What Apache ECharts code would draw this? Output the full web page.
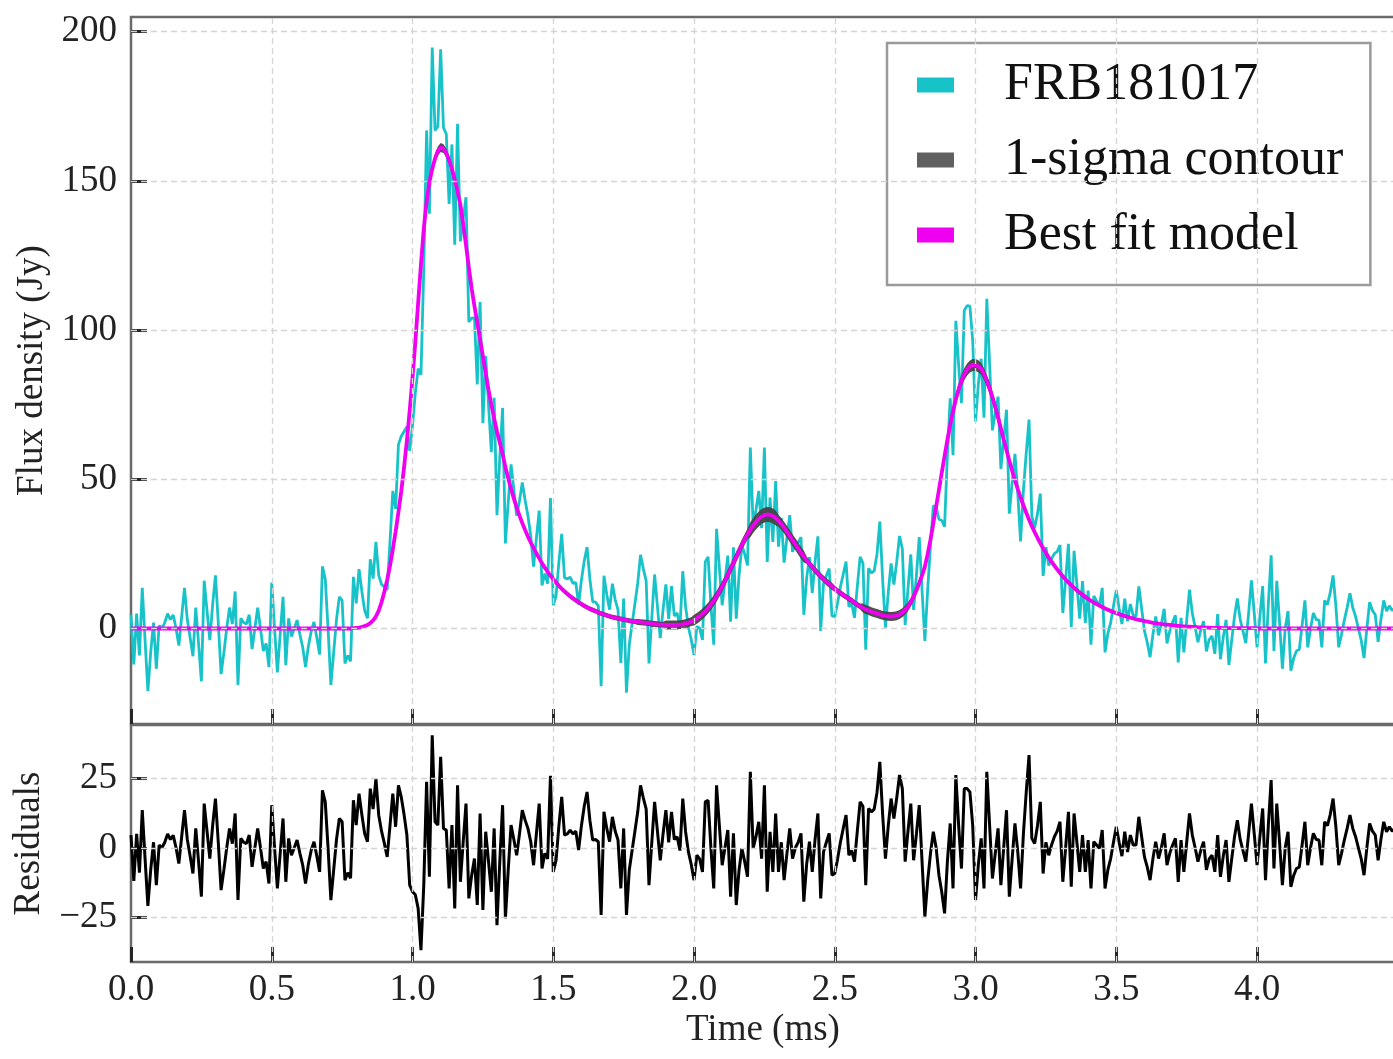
<!DOCTYPE html>
<html>
<head>
<meta charset="utf-8">
<title>FRB181017 burst profile</title>
<script src="https://cdn.jsdelivr.net/npm/echarts@6/dist/echarts.min.js"></script>
<style>
  html, body { margin: 0; padding: 0; background: #ffffff; }
  #chart { width: 1393px; height: 1059px; }
</style>
</head>
<body>
<div id="chart"></div>
<script>
// Time resolution of the profile (ms per sample)
const sampleStep = 0.01;

// Observed flux density (Jy), one value per sample from t = 0
const flux = [
  4.6, -12, 5, -9, 13.6, -4, -21, -8, 2, -13.5,
  1, 0, 2, 5, 3, 4.5, 0, -5.7, 4, 13.6,
  3, -3, -9.3, 7, -5, -17.7, 16, 6, -3.9, 8,
  17.8, 2, -15.3, -8, 0, 7, 1.5, 12.4, -18.9, 3.4,
  2, 1.5, 4.6, -6.9, 0, 7, 0, -7.5, -5, -12.9,
  15.4, 0, -14.7, -2, 10.6, -12.3, 3.4, -2.7, 0, 2.8,
  -2, -6.3, -12.9, -6, -1, 2.2, -3, -8.7, 20.8, 16.6,
  0, -18.9, -8, 3, 10.6, 9.4, -11.7, -9, -11, 17.3,
  8.4, 19.9, 12.5, 6, 3.4, 23.2, 16.7, 29, 17.8, 14.8,
  13.9, 13, 29, 46.1, 40.1, 61.6, 64.4, 66, 67.6, 59.5,
  68.1, 79, 87.1, 85, 120.5, 166.9, 139, 194.7, 166.9, 168.2,
  194.1, 167.8, 165.7, 142.3, 162.2, 128.6, 169.1, 129.7, 137.5, 144.5,
  102.7, 104, 104.1, 81.8, 109.4, 68.8, 91.3, 75, 59.1, 77.3,
  38, 57.3, 73.9, 28.5, 42.3, 55, 46.5, 37.8, 42.8, 48.9,
  43, 37.8, 31, 20.7, 30.2, 39.5, 14.4, 18.4, 15, 43.7,
  7.8, 10.9, 22.3, 31.7, 17, 16.6, 17.2, 15.1, 15.4, 8,
  16.2, 22.6, 27.3, 16.6, 9, 8.8, 7.6, -19.3, 17.7, 11.4,
  6.3, 15, 9.6, 6.2, -11.5, 10, -21.5, -5.4, 1.5, 8.3,
  15.2, 24.7, 20, 15.9, -11.7, 3.6, 18.1, 7.4, -3.2, 6.3,
  14.8, 3.2, 14.2, 4.2, 5.2, 0.3, 19.2, 7.4, 0.4, -3.7,
  -8.9, 0.7, 0.1, -3.8, 22.4, 24, 8, -5.4, 33.4, 20.4,
  7.8, 16, 24.4, 2.3, 27.2, 3.3, 18, 27.8, 24.9, 21.1,
  60.6, 34.3, 39.7, 46.1, 33.6, 60.6, 22.3, 43.9, 29, 49.4,
  27.4, 37, 22.1, 30.4, 38, 25.7, 28.2, 28.8, 30.6, 4.6,
  16.9, 23.9, 11.9, 22.5, 30.9, -0.8, 15.1, 17.7, 20.1, 4.2,
  4, 8.6, 13.9, 18.2, 22.4, 7.3, 8.4, 3.6, 14, 24,
  21.9, -7.1, 20.2, 18.6, 19.3, 25, 35.8, 16.4, 0.3, 12.1,
  21.8, 14.7, 22.3, 31, 26.7, 1.2, 13.3, 24.8, 6.2, 17.8,
  30.6, 12.8, -4.2, 13, 27.8, 41.1, 40.8, 36.6, 36.2, 34.1,
  58.2, 77.1, 58.1, 103.1, 88.2, 75.5, 106.6, 108.2, 108, 96.3,
  69.4, 81.9, 90.4, 70.6, 110.5, 88.5, 66.4, 72.2, 77.7, 53.5,
  63.3, 73.3, 38.5, 48.9, 58.5, 45.2, 29.2, 46.3, 58.8, 70,
  37.7, 33.8, 38.4, 45.2, 17.6, 27.3, 21.1, 23.4, 25.1, 25.8,
  28, 5.2, 16.4, 28.4, 0.4, 26, 14.8, 3.3, 15.9, 1.9,
  12.7, -5.4, 10.9, 9.2, 7.5, 13.6, -8, -1.7, 2, 7.5,
  12.8, 6.8, 1.5, 10, 2.4, 8.2, 4.4, 4.1, 14.1, 6.7,
  -0.8, -4.7, -9.6, -2.1, 4, -2.3, 1.5, 6.6, -5, -0.8,
  2.1, 4.4, -11.4, 3.6, -8, 2.6, 13, 5.1, 0.5, -4.6,
  -0.6, 2.5, -7.7, -3.7, -2.5, -8.5, 4.8, -10.3, -2.9, 2.9,
  -12.2, -3.9, 4.1, 10.1, 3.1, -0.9, -4.9, 5.1, 16.1, 5.1,
  -6.3, 4, 14.2, -11.7, 8, 24.5, -7.5, 16, 2, -13.5,
  0, 5.8, -14.1, -10, -7.5, -7, 1, 9.4, -6.3, 0,
  5.2, 3, 2.8, -6.3, 9.4, 8, 12, 17.8, 7.6, -6.3,
  -2, 2.8, 7, 11.8, 7, 4, 0, -4, -9.9, 0,
  8.8, 6, 4.6, -4.5, 3, 9.4, 5.8, 7.6, 6, 7
];

// Best fit model (Jy) on the same time samples
const bestFit = [
  0, 0, 0, 0, 0, 0, 0, 0, 0, 0,
  0, 0, 0, 0, 0, 0, 0, 0, 0, 0,
  0, 0, 0, 0, 0, 0, 0, 0, 0, 0,
  0, 0, 0, 0, 0, 0, 0, 0, 0, 0,
  0, 0, 0, 0, 0, 0, 0, 0, 0, 0,
  0, 0, 0, 0, 0, 0, 0, 0, 0, 0,
  0, 0, 0, 0, 0, 0, 0, 0, 0, 0,
  0, 0, 0, 0, 0, 0, 0, 0, 0, 0.1,
  0.2, 0.3, 0.5, 0.8, 1.2, 1.8, 2.7, 4, 6, 8.8,
  12.3, 16.3, 21, 26.5, 32.5, 39, 46, 54, 63, 73,
  84, 96, 109, 122, 134, 143, 149.5, 154, 157.5, 160,
  161.2, 160.8, 159.3, 157, 154, 150.5, 146.5, 142, 135.5, 128.5,
  121, 114, 108, 102.5, 97, 91.3, 85.5, 80, 75, 70.3,
  66, 62.3, 58.5, 54, 50.3, 46.8, 43.5, 40.5, 37.8, 35.3,
  33, 30.8, 28.8, 27, 25.2, 23.5, 21.9, 20.4, 19, 17.7,
  16.5, 15.4, 14.3, 13.3, 12.4, 11.6, 10.8, 10.1, 9.4, 8.8,
  8.2, 7.6, 7.1, 6.6, 6.2, 5.8, 5.4, 5, 4.7, 4.4,
  4.1, 3.8, 3.6, 3.4, 3.2, 3, 2.8, 2.6, 2.5, 2.3,
  2.2, 2.1, 2, 1.9, 1.8, 1.6, 1.5, 1.4, 1.3, 1.3,
  1.2, 1.2, 1.2, 1.2, 1.2, 1.3, 1.4, 1.6, 1.9, 2.3,
  2.8, 3.4, 4.1, 4.9, 5.8, 6.8, 8, 9.3, 10.8, 12.4,
  14.1, 16, 18, 20, 22, 24, 26, 28, 29.9, 31.6,
  33.1, 34.5, 35.7, 36.7, 37.5, 38, 38.2, 38.1, 37.7, 37,
  36.1, 35, 33.8, 32.4, 31, 29.6, 28.2, 26.8, 25.4, 24.1,
  22.9, 21.7, 20.6, 19.5, 18.5, 17.5, 16.6, 15.7, 14.9, 14.1,
  13.3, 12.6, 11.9, 11.2, 10.6, 10, 9.4, 8.6, 8, 7.4,
  6.9, 6.4, 6, 5.6, 5.3, 5, 4.7, 4.4, 4.2, 4.1,
  4, 4.1, 4.3, 4.7, 5.3, 6.2, 7.3, 8.8, 10.7, 12.8,
  15.2, 17.8, 20.7, 25, 29.8, 35.3, 40.8, 46.5, 52.2, 57.8,
  63.2, 68.3, 72.8, 76.8, 80.2, 83, 85.2, 86.8, 87.8, 88.3,
  88.3, 87.9, 87, 85.3, 83, 80.5, 77.5, 74.2, 70.7, 67,
  63.3, 59.7, 56.2, 52.9, 49.7, 46.7, 43.9, 41.3, 38.8, 36.5,
  34.3, 32.3, 30.4, 28.6, 26.9, 25.3, 23.8, 22.4, 21.1, 19.8,
  18.6, 17.5, 16.4, 15.4, 14.5, 13.6, 12.8, 12, 11.3, 10.6,
  9.9, 9.3, 8.7, 8.2, 7.7, 7.2, 6.7, 6.3, 5.9, 5.5,
  5.2, 4.8, 4.5, 4.2, 3.9, 3.6, 3.4, 3.1, 2.9, 2.7,
  2.5, 2.3, 2.1, 1.9, 1.8, 1.6, 1.5, 1.4, 1.3, 1.2,
  1.1, 1, 0.9, 0.8, 0.7, 0.6, 0.6, 0.5, 0.5, 0.4,
  0.4, 0.3, 0.3, 0.3, 0.2, 0.2, 0.2, 0.2, 0.1, 0.1,
  0.1, 0.1, 0.1, 0.1, 0.1, 0.1, 0.1, 0.1, 0.1, 0.1,
  0, 0, 0, 0, 0, 0, 0, 0, 0, 0,
  0, 0, 0, 0, 0, 0, 0, 0, 0, 0,
  0, 0, 0, 0, 0, 0, 0, 0, 0, 0,
  0, 0, 0, 0, 0, 0, 0, 0, 0, 0,
  0, 0, 0, 0, 0, 0, 0, 0, 0, 0
];

// Residuals (data minus model, Jy) on the same time samples
const residuals = [
  4.6, -12, 5, -9, 13.6, -4, -21, -8, 2, -13.5,
  1, 0, 2, 5, 3, 4.5, 0, -5.7, 4, 13.6,
  3, -3, -9.3, 7, -5, -17.7, 16, 6, -3.9, 8,
  17.8, 2, -15.3, -8, 0, 7, 1.5, 12.4, -18.9, 3.4,
  2, 1.5, 4.6, -6.9, 0, 7, 0, -7.5, -5, -12.9,
  15.4, 0, -14.7, -2, 10.6, -12.3, 3.4, -2.7, 0, 2.8,
  -2, -6.3, -12.9, -6, -1, 2.2, -3, -8.7, 20.8, 16.6,
  0, -18.9, -8, 3, 10.6, 9.4, -11.7, -9, -11, 17.2,
  8.2, 19.6, 12, 5.2, 2.2, 21.4, 14, 25, 11.8, 6,
  1.6, -3.3, 8, 19.6, 7.6, 22.6, 18.4, 12, 4.6, -13.5,
  -15.9, -17, -21.9, -37, -13.5, 23.9, -10.5, 40.7, 9.4, 8.2,
  32.9, 7, 6.4, -14.7, 8.2, -21.9, 22.6, -12.3, 2, 16,
  -18.3, -10, -3.9, -20.7, 12.4, -22.5, 5.8, -5, -15.9, 7,
  -28, -5, 15.4, -25.5, -8, 8.2, 3, -2.7, 5, 13.6,
  10, 7, 2.2, -6.3, 5, 16, -7.5, -2, -4, 26,
  -8.7, -4.5, 8, 18.4, 4.6, 5, 6.4, 5, 6, -0.8,
  8, 15, 20.2, 10, 2.8, 3, 2.2, -24.3, 13, 7,
  2.2, 11.2, 6, 2.8, -14.7, 7, -24.3, -8, -1, 6,
  13, 22.6, 18, 14, -13.5, 2, 16.6, 6, -4.5, 5,
  13.6, 2, 13, 3, 4, -1, 17.8, 5.8, -1.5, -6,
  -11.7, -2.7, -4, -8.7, 16.6, 17.2, 0, -14.7, 22.6, 8,
  -6.3, 0, 6.4, -17.7, 5.2, -20.7, -8, -0.2, -5, -10.5,
  27.5, -0.2, 4, 9.4, -3.9, 22.6, -15.9, 5.8, -8.7, 12.4,
  -8.7, 2, -11.7, -2, 7, -3.9, 0, 2, 5.2, -19.5,
  -6, 2.2, -8.7, 3, 12.4, -18.3, -1.5, 2, 5.2, -9.9,
  -9.3, -4, 2, 7, 11.8, -2.7, -1, -5, 6, 16.6,
  15, -13.5, 14.2, 13, 14, 20, 31.1, 12, -3.9, 8,
  17.8, 10.6, 18, 26.3, 21.4, -5, 6, 16, -4.5, 5,
  15.4, -5, -24.9, -12, -2, 5.8, 0, -9.9, -16, -23.7,
  -5, 8.8, -14.7, 26.3, 8, -7.5, 21.4, 21.4, 20.2, 8,
  -18.9, -6, 3.4, -14.7, 27.5, 8, -11.1, -2, 7, -13.5,
  0, 13.6, -17.7, -4, 8.8, -1.5, -14.7, 5, 20, 33.5,
  3.4, 1.5, 8, 16.6, -9.3, 2, -2.7, 1, 4, 6,
  9.4, -12.3, 0, 13, -14.1, 12.4, 2, -8.7, 4.6, -8.7,
  2.8, -14.7, 2.2, 1, -0.2, 6.4, -14.7, -8, -3.9, 2,
  7.6, 2, -3, 5.8, -1.5, 4.6, 1, 1, 11.2, 4,
  -3.3, -7, -11.7, -4, 2.2, -3.9, 0, 5.2, -6.3, -2,
  1, 3.4, -12.3, 2.8, -8.7, 2, 12.4, 4.6, 0, -5,
  -1, 2.2, -8, -4, -2.7, -8.7, 4.6, -10.5, -3, 2.8,
  -12.3, -4, 4, 10, 3, -1, -5, 5, 16, 5,
  -6.3, 4, 14.2, -11.7, 8, 24.5, -7.5, 16, 2, -13.5,
  0, 5.8, -14.1, -10, -7.5, -7, 1, 9.4, -6.3, 0,
  5.2, 3, 2.8, -6.3, 9.4, 8, 12, 17.8, 7.6, -6.3,
  -2, 2.8, 7, 11.8, 7, 4, 0, -4, -9.9, 0,
  8.8, 6, 4.6, -4.5, 3, 9.4, 5.8, 7.6, 6, 7
];

// Half width of the 1-sigma model envelope (Jy), one value per 0.1 ms
const contourHalfWidth = [
  0, 0, 0, 0, 0, 0, 0, 0, 0.5, 1.0,
  1.5, 1.5, 1.0, 1.0, 0.8, 0.8, 0.8, 0.8, 1.0, 1.5,
  1.8, 1.8, 2.5, 2.0, 1.2, 1.0, 1.5, 1.5, 1.5, 2.0,
  2.0, 1.2, 0.8, 0.8, 0.6, 0.5, 0.3, 0.2, 0, 0,
  0, 0, 0, 0, 0
];
const contourSegment = 0.1;

// Axis ticks
const timeTicks = [0, 0.5, 1.0, 1.5, 2.0, 2.5, 3.0, 3.5, 4.0];
const fluxTicks = [0, 50, 100, 150, 200];
const residualTicks = [-25, 0, 25];

// ---- build series data ----
const time = flux.map((_, i) => Math.round(i * sampleStep * 100) / 100);
const fluxData = time.map((t, i) => [t, flux[i]]);
const modelData = time.map((t, i) => [t, bestFit[i]]);
const residualData = time.map((t, i) => [t, residuals[i]]);
const halfAt = t => contourHalfWidth[Math.min(contourHalfWidth.length - 1, Math.floor(t / contourSegment + 1e-9))];
// envelope only where it has a width
const envelopeIdx = time.map((t, i) => i).filter(i => halfAt(time[i]) > 0);
const contourUpper = envelopeIdx.map(i => [time[i], bestFit[i] + halfAt(time[i])]);
const contourLower = envelopeIdx.map(i => [time[i], bestFit[i] - halfAt(time[i])]);

const FONT = "'Liberation Serif', 'DejaVu Serif', 'Times New Roman', serif";
const SPINE = '#6a6a6a';
const gridLine = { color: '#d4d4d4', width: 1.3, type: [6, 4] };
const tickLine = { color: '#262626', width: 3 };
const labelText = { fontFamily: FONT, fontSize: 37, color: '#222222' };
const minus = v => (v < 0 ? '\u2212' + Math.abs(v) : String(v));

const chart = echarts.init(document.getElementById('chart'), null, { renderer: 'canvas' });

const PLOT_LEFT = 131;
const PLOT_WIDTH = 1264;
const T_MAX = 4.49;

const option = {
  animation: false,
  backgroundColor: '#ffffff',
  grid: [
    { left: PLOT_LEFT, top: 17, width: PLOT_WIDTH, height: 707, show: true,
      borderColor: SPINE, borderWidth: 2.5, backgroundColor: 'transparent',
      containLabel: false, outerBoundsMode: 'none' },
    { left: PLOT_LEFT, top: 725, width: PLOT_WIDTH, height: 237, show: true,
      borderColor: SPINE, borderWidth: 2.5, backgroundColor: 'transparent',
      containLabel: false, outerBoundsMode: 'none' }
  ],
  xAxis: [
    { type: 'value', gridIndex: 0, min: 0, max: T_MAX,
      axisLine: { show: false, onZero: false },
      axisTick: { show: true, inside: true, length: 15, lineStyle: tickLine, customValues: timeTicks },
      axisLabel: { show: false, customValues: timeTicks },
      splitLine: { show: false } },
    { type: 'value', gridIndex: 1, min: 0, max: T_MAX,
      axisLine: { show: false, onZero: false },
      axisTick: { show: true, inside: true, length: 15, lineStyle: tickLine, customValues: timeTicks },
      axisLabel: Object.assign({ show: true, margin: 10, customValues: timeTicks,
        formatter: v => Number(v).toFixed(1) }, labelText),
      splitLine: { show: false },
      name: 'Time (ms)', nameLocation: 'middle', nameGap: 50,
      nameTextStyle: { fontFamily: FONT, fontSize: 37, color: '#222222' } }
  ],
  yAxis: [
    { type: 'value', gridIndex: 0, min: -32, max: 204.9,
      axisLine: { show: false, onZero: false },
      axisTick: { show: true, inside: true, length: 16, lineStyle: tickLine, customValues: fluxTicks },
      axisLabel: Object.assign({ show: true, margin: 14, customValues: fluxTicks, formatter: minus }, labelText),
      splitLine: { show: false },
      name: 'Flux density (Jy)', nameLocation: 'middle', nameGap: 78,
      nameTextStyle: { fontFamily: FONT, fontSize: 37, color: '#222222' } },
    { type: 'value', gridIndex: 1, min: -41.3, max: 44.4,
      axisLine: { show: false, onZero: false },
      axisTick: { show: true, inside: true, length: 16, lineStyle: tickLine, customValues: residualTicks },
      axisLabel: Object.assign({ show: true, margin: 14, customValues: residualTicks, formatter: minus }, labelText),
      splitLine: { show: false },
      name: 'Residuals', nameLocation: 'middle', nameGap: 80,
      nameTextStyle: { fontFamily: FONT, fontSize: 37, color: '#222222' } }
  ],
  legend: {
    data: ['FRB181017', '1-sigma contour', 'Best fit model'],
    orient: 'vertical', left: 887, top: 43,
    icon: 'rect', itemWidth: 37, itemHeight: 15, itemGap: 15,
    padding: [12, 27, 20, 30],
    borderColor: '#9a9a9a', borderWidth: 2.5, borderRadius: 0,
    backgroundColor: 'rgba(255,255,255,0.8)',
    selectedMode: false,
    textStyle: { fontFamily: FONT, fontSize: 52, color: '#111111', lineHeight: 60, padding: [0, 0, 0, 45] }
  },
  series: [
    // dashed grid, drawn under the data
    { type: 'line', name: 'grid-top', xAxisIndex: 0, yAxisIndex: 0, data: [[0, 0]], silent: true, z: 1,
      symbol: 'none', lineStyle: { opacity: 0 },
      markLine: { silent: true, symbol: 'none', label: { show: false }, animation: false, lineStyle: gridLine,
        data: fluxTicks.map(v => ({ yAxis: v })).concat(timeTicks.slice(1).map(v => ({ xAxis: v }))) } },
    { type: 'line', name: 'grid-bottom', xAxisIndex: 1, yAxisIndex: 1, data: [[0, 0]], silent: true, z: 1,
      symbol: 'none', lineStyle: { opacity: 0 },
      markLine: { silent: true, symbol: 'none', label: { show: false }, animation: false, lineStyle: gridLine,
        data: residualTicks.map(v => ({ yAxis: v })).concat(timeTicks.slice(1).map(v => ({ xAxis: v }))) } },
    { type: 'line', name: 'FRB181017', xAxisIndex: 0, yAxisIndex: 0, data: fluxData, z: 2,
      showSymbol: false, symbol: 'none',
      itemStyle: { color: '#17c3c8' }, lineStyle: { color: '#17c3c8', width: 2.8 } },
    // 1-sigma envelope as one filled polygon in data coordinates
    { type: 'custom', name: '1-sigma contour', xAxisIndex: 0, yAxisIndex: 0, z: 3, silent: true,
      data: [[contourUpper[0][0], contourUpper[0][1]]],
      itemStyle: { color: '#606060' },
      renderItem: (params, api) => {
        const top = contourUpper.map(p => api.coord(p));
        const bottom = contourLower.map(p => api.coord(p)).reverse();
        return {
          type: 'polygon',
          shape: { points: top.concat(bottom) },
          style: { fill: '#454545', opacity: 0.95 }
        };
      } },
    { type: 'line', name: 'Best fit model', xAxisIndex: 0, yAxisIndex: 0, data: modelData, z: 4,
      showSymbol: false, symbol: 'none',
      itemStyle: { color: '#f000f0' }, lineStyle: { color: '#f000f0', width: 3.8 } },
    { type: 'line', name: 'Residuals', xAxisIndex: 1, yAxisIndex: 1, data: residualData, z: 2,
      showSymbol: false, symbol: 'none',
      itemStyle: { color: '#000000' }, lineStyle: { color: '#000000', width: 3 } }
  ]
};

chart.setOption(option);
</script>
</body>
</html>
